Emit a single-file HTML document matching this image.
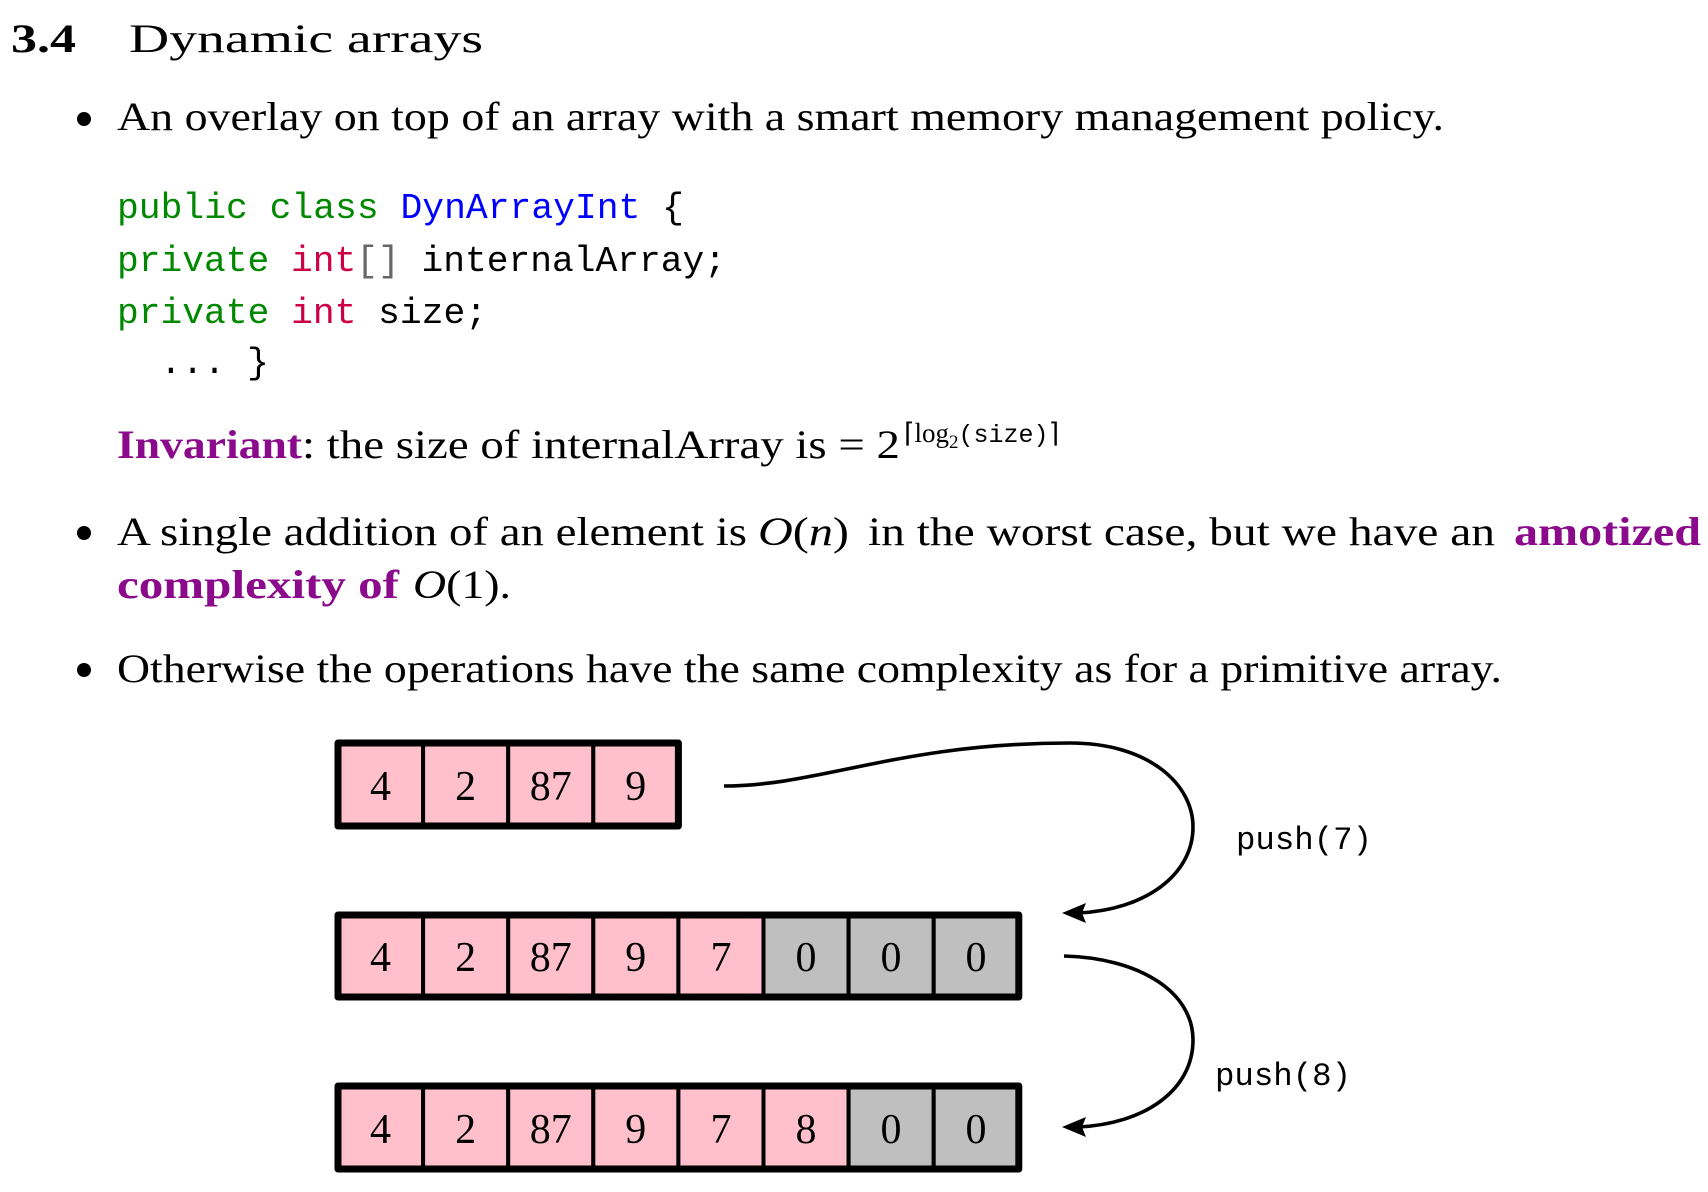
<!DOCTYPE html>
<html><head><meta charset="utf-8"><style>
html,body{margin:0;padding:0;background:#fff;}
svg{display:block;}
.s{font-family:"Liberation Serif",serif;}
.m{font-family:"Liberation Mono",monospace;}
</style></head><body>
<svg width="1708" height="1192" viewBox="0 0 1708 1192" xmlns="http://www.w3.org/2000/svg">
<g class="s" fill="#000">
<text x="11" y="52" font-size="40" font-weight="bold" textLength="65" lengthAdjust="spacingAndGlyphs">3.4</text>
<text x="129" y="52" font-size="40" textLength="354" lengthAdjust="spacingAndGlyphs">Dynamic arrays</text>

<circle cx="84" cy="119" r="7"/>
<text x="117" y="130" font-size="40" textLength="1327" lengthAdjust="spacingAndGlyphs">An overlay on top of an array with a smart memory management policy.</text>
</g>

<g class="m" font-size="36.3">
<text x="117" y="218" textLength="567" lengthAdjust="spacingAndGlyphs"><tspan fill="#008800">public class</tspan> <tspan fill="#0000ff">DynArrayInt</tspan> <tspan fill="#000">{</tspan></text>
<text x="117" y="271" textLength="609" lengthAdjust="spacingAndGlyphs"><tspan fill="#008800">private</tspan> <tspan fill="#cc0044">int</tspan><tspan fill="#666">[]</tspan> <tspan fill="#000">internalArray;</tspan></text>
<text x="117" y="323" textLength="370" lengthAdjust="spacingAndGlyphs"><tspan fill="#008800">private</tspan> <tspan fill="#cc0044">int</tspan> <tspan fill="#000">size;</tspan></text>
<text x="160" y="373" fill="#000">... }</text>
</g>

<g class="s" font-size="40">
<text x="117" y="458" fill="#8b0a8b" font-weight="bold" textLength="185" lengthAdjust="spacingAndGlyphs">Invariant</text>
<text x="302" y="458" fill="#000" textLength="598" lengthAdjust="spacingAndGlyphs">: the size of internalArray is = 2</text>
<text x="904" y="442" fill="#000" font-size="27">⌈log<tspan font-size="19" dy="6">2</tspan><tspan dy="-6" font-family="Liberation Mono" font-size="25">(size)</tspan>⌉</text>

<circle cx="84" cy="533" r="7"/>
<text x="117" y="545" textLength="630" lengthAdjust="spacingAndGlyphs">A single addition of an element is</text>
<text x="758" y="545" textLength="91" lengthAdjust="spacingAndGlyphs"><tspan font-style="italic">O</tspan>(<tspan font-style="italic">n</tspan>)</text>
<text x="868" y="545" textLength="627" lengthAdjust="spacingAndGlyphs">in the worst case, but we have an</text>
<text x="1514" y="545" fill="#8b0a8b" font-weight="bold" textLength="187" lengthAdjust="spacingAndGlyphs">amotized</text>
<text x="117" y="598" fill="#8b0a8b" font-weight="bold" textLength="282" lengthAdjust="spacingAndGlyphs">complexity of</text>
<text x="413" y="598" textLength="98" lengthAdjust="spacingAndGlyphs"><tspan font-style="italic">O</tspan>(1).</text>

<circle cx="84" cy="670" r="7"/>
<text x="117" y="682" textLength="1385" lengthAdjust="spacingAndGlyphs">Otherwise the operations have the same complexity as for a primitive array.</text>
</g>

<!-- arrays -->
<g stroke="#000" stroke-width="4">
<rect x="338" y="743" width="85.1" height="83" fill="#ffbfcb"/>
<rect x="423.1" y="743" width="85.1" height="83" fill="#ffbfcb"/>
<rect x="508.2" y="743" width="85.1" height="83" fill="#ffbfcb"/>
<rect x="593.3" y="743" width="85.1" height="83" fill="#ffbfcb"/>

<rect x="338" y="915" width="85.1" height="82" fill="#ffbfcb"/>
<rect x="423.1" y="915" width="85.1" height="82" fill="#ffbfcb"/>
<rect x="508.2" y="915" width="85.1" height="82" fill="#ffbfcb"/>
<rect x="593.3" y="915" width="85.1" height="82" fill="#ffbfcb"/>
<rect x="678.4" y="915" width="85.1" height="82" fill="#ffbfcb"/>
<rect x="763.5" y="915" width="85.1" height="82" fill="#bfbfbf"/>
<rect x="848.6" y="915" width="85.1" height="82" fill="#bfbfbf"/>
<rect x="933.7" y="915" width="85.1" height="82" fill="#bfbfbf"/>

<rect x="338" y="1086" width="85.1" height="83" fill="#ffbfcb"/>
<rect x="423.1" y="1086" width="85.1" height="83" fill="#ffbfcb"/>
<rect x="508.2" y="1086" width="85.1" height="83" fill="#ffbfcb"/>
<rect x="593.3" y="1086" width="85.1" height="83" fill="#ffbfcb"/>
<rect x="678.4" y="1086" width="85.1" height="83" fill="#ffbfcb"/>
<rect x="763.5" y="1086" width="85.1" height="83" fill="#ffbfcb"/>
<rect x="848.6" y="1086" width="85.1" height="83" fill="#bfbfbf"/>
<rect x="933.7" y="1086" width="85.1" height="83" fill="#bfbfbf"/>
</g>
<g fill="none" stroke="#000" stroke-width="7" stroke-linejoin="round">
<rect x="338" y="743" width="340.4" height="83"/>
<rect x="338" y="915" width="680.8" height="82"/>
<rect x="338" y="1086" width="680.8" height="83"/>
</g>

<g class="s" font-size="42" text-anchor="middle" fill="#000">
<text x="380.5" y="800">4</text><text x="465.6" y="800">2</text><text x="550.7" y="800">87</text><text x="635.8" y="800">9</text>
<text x="380.5" y="971">4</text><text x="465.6" y="971">2</text><text x="550.7" y="971">87</text><text x="635.8" y="971">9</text><text x="721" y="971">7</text><text x="806" y="971">0</text><text x="891" y="971">0</text><text x="976" y="971">0</text>
<text x="380.5" y="1143">4</text><text x="465.6" y="1143">2</text><text x="550.7" y="1143">87</text><text x="635.8" y="1143">9</text><text x="721" y="1143">7</text><text x="806" y="1143">8</text><text x="891" y="1143">0</text><text x="976" y="1143">0</text>
</g>

<!-- arrows -->
<g fill="none" stroke="#000" stroke-width="3.6">
<path d="M724,786 C820,786 900,743 1070,743 C1150,743 1193,785 1193,827 C1193,875 1145,910 1078,913"/>
<path d="M1064,956 C1140,958 1193,992 1193,1040 C1193,1090 1145,1124 1078,1127"/>
</g>
<g fill="#000">
<polygon points="1062,913 1086,903 1082,913 1086,923"/>
<polygon points="1062,1127 1086,1117 1082,1127 1086,1137"/>
</g>
<g class="m" font-size="32" fill="#000">
<text x="1236" y="849" textLength="136" lengthAdjust="spacingAndGlyphs">push(7)</text>
<text x="1215" y="1085" textLength="136" lengthAdjust="spacingAndGlyphs">push(8)</text>
</g>
</svg>
</body></html>
